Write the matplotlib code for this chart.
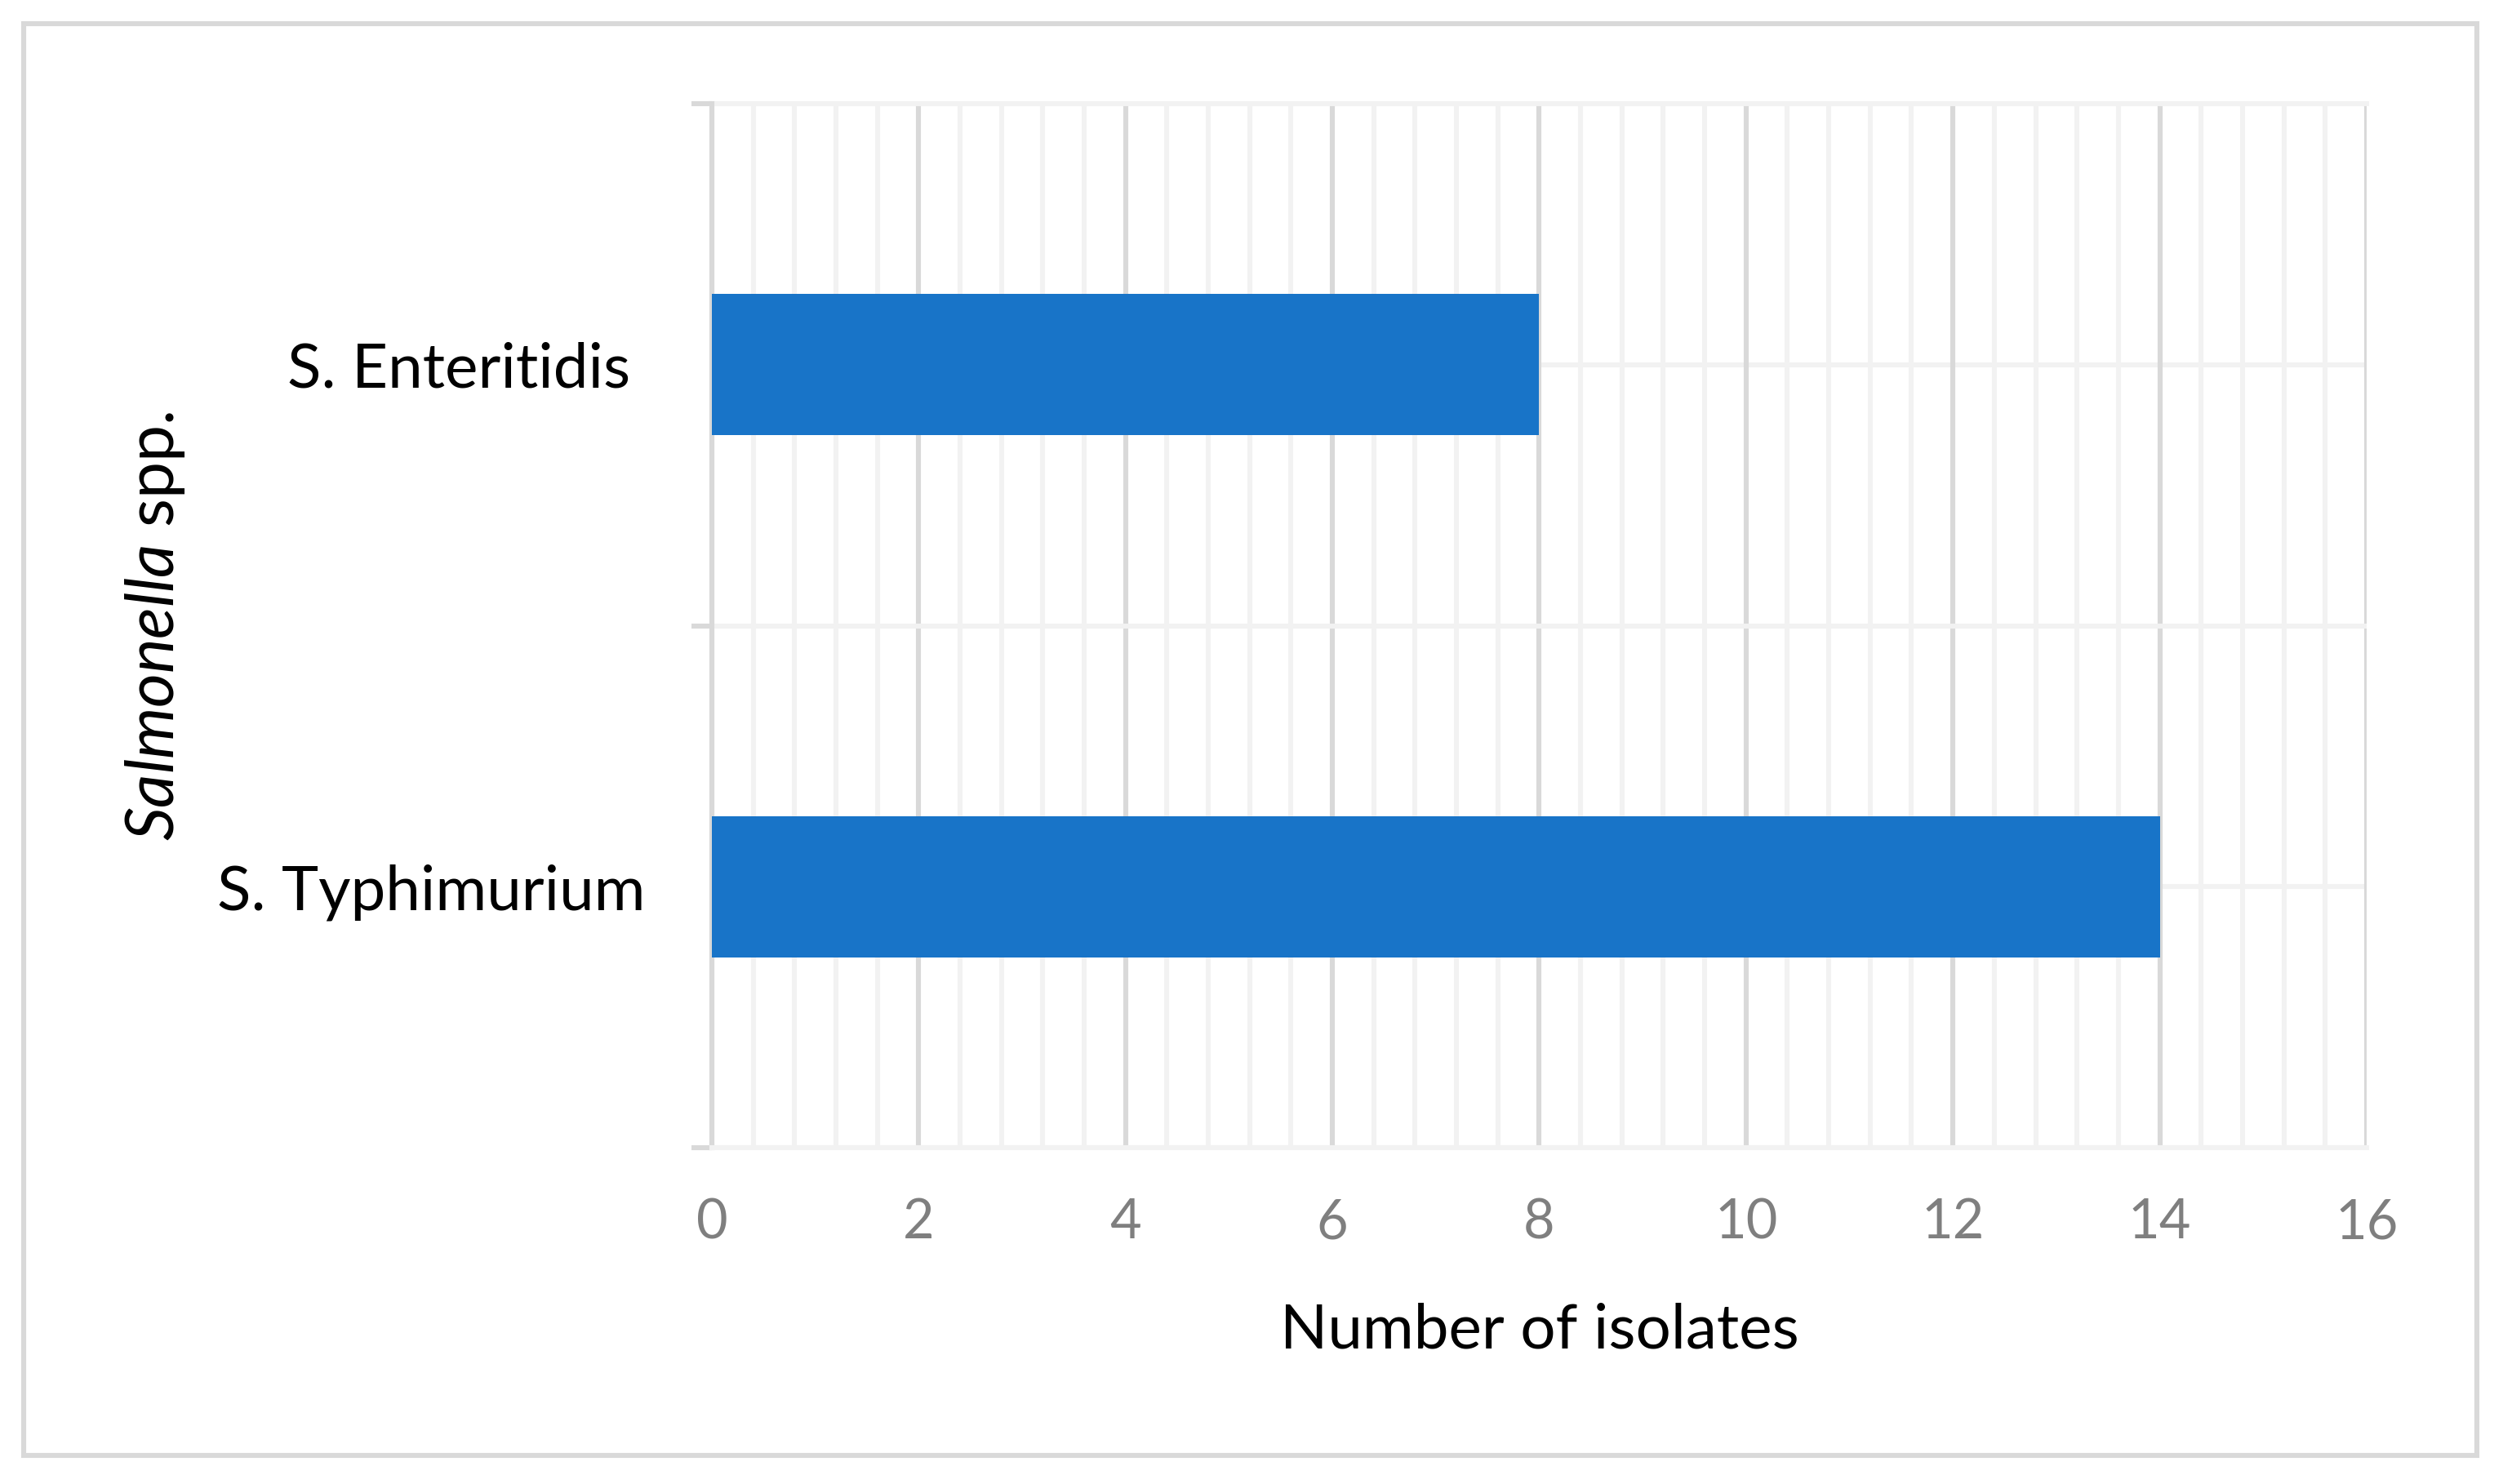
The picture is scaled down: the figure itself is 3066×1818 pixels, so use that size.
import matplotlib
matplotlib.use("Agg")
import matplotlib.pyplot as plt
import matplotlib.transforms as mtransforms
from matplotlib.patches import Rectangle
from matplotlib.ticker import MultipleLocator, FixedLocator
import numpy as np

plt.rcParams['font.family'] = ['Lato', 'DejaVu Sans']
plt.rcParams['mathtext.fontset'] = 'custom'
plt.rcParams['mathtext.rm'] = 'Lato'
plt.rcParams['mathtext.it'] = 'Lato:italic'

# data, bottom to top
serovars = ["S. Typhimurium", "S. Enteritidis"]
isolates = [14, 8]
x_ticks = [0, 2, 4, 6, 8, 10, 12, 14, 16]

bar_color = "#1874c8"
major_grey = "#d9d9d9"
minor_grey = "#f2f2f2"
lw = 2.2

fig = plt.figure(figsize=(15.33, 9.09), dpi=200)
ax = fig.add_axes([0.2844, 0.2266, 0.9455 - 0.2844, 0.9301 - 0.2266])

pos = np.arange(len(serovars))
ax.barh(pos, isolates, height=0.27, color=bar_color, zorder=3)

ax.set_xlim(x_ticks[0], x_ticks[-1])
ax.set_ylim(-0.5, len(serovars) - 0.5)

# x grid: major every 2, minor every 0.4
ax.xaxis.set_major_locator(FixedLocator(x_ticks))
ax.xaxis.set_minor_locator(MultipleLocator(0.4))
ax.grid(axis='x', which='major', color=major_grey, lw=lw, zorder=1)
ax.grid(axis='x', which='minor', color=minor_grey, lw=lw, zorder=0)

# y: labels at centres, tick marks at category boundaries
ax.set_yticks(pos)
ax.set_yticklabels(serovars)
ax.yaxis.set_minor_locator(FixedLocator([-0.5, 0.5, 1.5]))
ax.grid(axis='y', which='minor', color=minor_grey, lw=lw, zorder=0)
ax.tick_params(axis='y', which='major', length=0, pad=29.5, labelsize=27.5,
               labelcolor='black')
ax.tick_params(axis='y', which='minor', length=9, width=lw, color=major_grey)
ax.tick_params(axis='x', which='both', length=0, pad=22, labelsize=24,
               labelcolor='#7f7f7f')
for y in pos:
    ax.axhline(y, color=minor_grey, lw=lw, zorder=0)

# the upper label sits a little further from the axis
shift = mtransforms.ScaledTranslation(-18 / 200, 0, fig.dpi_scale_trans)
lab = ax.get_yticklabels()[1]
lab.set_transform(lab.get_transform() + shift)

for side in ['top', 'right']:
    ax.spines[side].set_visible(False)
ax.spines['left'].set_color(major_grey)
ax.spines['left'].set_linewidth(lw)
ax.spines['left'].set_zorder(2)
ax.spines['bottom'].set_color(minor_grey)
ax.spines['bottom'].set_linewidth(lw)
ax.axhline(len(serovars) - 0.5, color=minor_grey, lw=lw, zorder=0, clip_on=False)

ax.set_xlabel("Number of isolates", fontsize=27.5, va='baseline')
ax.xaxis.set_label_coords(0.5, -0.192)
ax.set_ylabel(r"$\mathit{Salmonella}$ spp.", fontsize=29, va='center')
ax.yaxis.set_label_coords(-0.3365, 0.5)

# outer chart border
fig.patches.append(Rectangle((29 / 3066, 1 - 1783 / 1818), (3034 - 29) / 3066,
                             (1783 - 29) / 1818, transform=fig.transFigure,
                             fill=False, ec=major_grey, lw=2.2))

fig.savefig("out.png", dpi=200, facecolor='white')
